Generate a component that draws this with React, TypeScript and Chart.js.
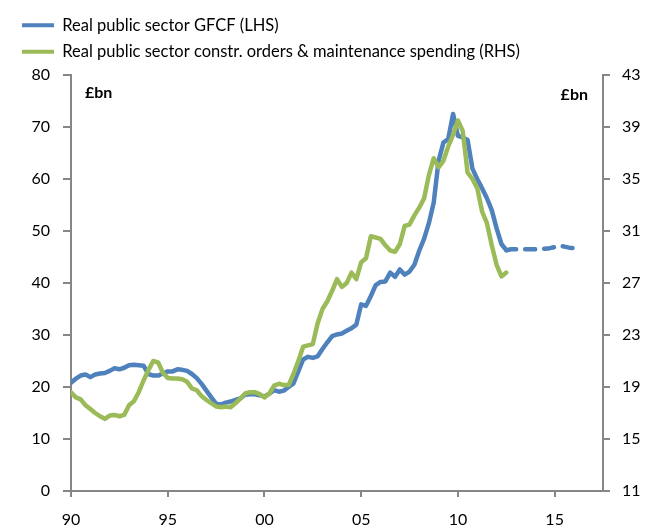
import React, { useEffect, useRef } from 'react';
import { Chart, registerables } from 'chart.js';

Chart.register(...registerables);

// Quarterly series starting 1990 Q1 (index 0)
const xTickIndexes = [0, 20, 40, 60, 80, 100];
const xTickLabels = ['90', '95', '00', '05', '10', '15'];

const seriesNames = [
  'Real public sector GFCF (LHS)',
  'Real public sector constr. orders & maintenance spending (RHS)',
];

// Real public sector GFCF, £bn (LHS), 1990Q1 .. 2012Q3
const gfcfActual = [
  20.8, 21.6, 22.2, 22.4, 21.9, 22.4, 22.6, 22.7, 23.1, 23.6,
  23.4, 23.7, 24.2, 24.3, 24.2, 24.1, 22.5, 22.2, 22.2, 22.6,
  23.0, 23.0, 23.4, 23.3, 23.1, 22.5, 21.7, 20.6, 19.3, 18.0,
  16.8, 16.6, 17.0, 17.2, 17.5, 17.8, 18.5, 18.6, 18.6, 18.4,
  18.2, 18.7, 19.4, 19.1, 19.3, 20.0, 20.7, 23.0, 25.3, 25.8,
  25.6, 25.9, 27.3, 28.6, 29.8, 30.1, 30.3, 30.8, 31.3, 32.0,
  35.9, 35.6, 37.5, 39.6, 40.2, 40.3, 42.0, 41.2, 42.6, 41.6,
  42.2, 43.5, 46.2, 48.5, 51.5, 55.5, 63.5, 67.0, 67.7, 72.5,
  68.3, 68.0, 67.5, 62.0, 60.0, 58.2, 56.3, 54.0, 50.5, 47.5,
  46.3,
];

// Projection, £bn (LHS), 2012Q4 .. 2016Q2
const gfcfProjection = [
  46.5, 46.5, 46.5, 46.5, 46.5, 46.5, 46.6, 46.6, 46.7, 46.9,
  47.2, 47.0, 46.8, 46.7, 46.7,
];

// Construction orders & maintenance spending, £bn (RHS), 1990Q1 .. 2012Q3
const constructionSpending = [
  18.6, 18.2, 18.05, 17.6, 17.3, 17.0, 16.75, 16.55, 16.8, 16.85,
  16.75, 16.85, 17.6, 17.9, 18.6, 19.5, 20.3, 21.0, 20.9, 20.1,
  19.7, 19.65, 19.65, 19.6, 19.4, 18.9, 18.75, 18.3, 18.0, 17.75,
  17.5, 17.45, 17.5, 17.45, 17.75, 18.1, 18.5, 18.6, 18.6, 18.45,
  18.2, 18.5, 19.1, 19.25, 19.15, 19.15, 20.0, 21.0, 22.1, 22.2,
  22.3, 23.9, 25.0, 25.6, 26.4, 27.3, 26.7, 27.0, 27.8, 27.3,
  28.6, 28.9, 30.6, 30.5, 30.4, 29.9, 29.5, 29.4, 30.0, 31.4,
  31.5, 32.2, 32.8, 33.5, 35.3, 36.6, 35.9, 36.4, 37.5, 38.4,
  39.5, 38.7, 35.5, 35.0, 34.3, 32.5, 31.6, 29.9, 28.4, 27.5,
  27.8,
];

const BLUE = '#4F81BD';
const GREEN = '#9BBB59';
const AXIS = '#868686';
const FONT = 'Lato';

const toPoints = (values: number[], start: number) =>
  values.map((v, i) => ({ x: start + i, y: v }));

const unitLabels = {
  id: 'unitLabels',
  afterDraw(chart: any) {
    const { ctx, chartArea } = chart;
    ctx.save();
    ctx.font = `bold 16px ${FONT}`;
    ctx.fillStyle = '#000';
    ctx.textBaseline = 'middle';
    ctx.textAlign = 'left';
    ctx.fillText('£bn', chartArea.left + 14, chartArea.top + 18);
    ctx.textAlign = 'right';
    ctx.fillText('£bn', chartArea.right - 15, chartArea.top + 20);
    ctx.restore();
  },
};

const legendSpacer = {
  id: 'legendSpacer',
  beforeInit(chart: any) {
    const legend = chart.legend;
    if (!legend) return;
    const origFit = legend.fit;
    legend.fit = function () {
      origFit.call(this);
      this.height += 5;
    };
  },
};

export default function App() {
  const ref = useRef<HTMLCanvasElement | null>(null);

  useEffect(() => {
    document.body.style.margin = '0';
    document.body.style.overflow = 'hidden';
    const canvas = ref.current;
    if (!canvas) return;

    const lastIdx = gfcfActual.length - 1;
    const projData = [
      { x: lastIdx, y: gfcfActual[lastIdx] },
      ...toPoints(gfcfProjection, gfcfActual.length),
    ];

    const chart = new Chart(canvas, {
      type: 'line',
      data: {
        datasets: [
          {
            label: seriesNames[0],
            data: toPoints(gfcfActual, 0),
            borderColor: BLUE,
            backgroundColor: BLUE,
            borderWidth: 4.5,
            pointRadius: 0,
            tension: 0,
            yAxisID: 'y',
            order: 1,
            borderJoinStyle: 'round',
            borderCapStyle: 'round',
          },
          {
            label: 'projection',
            data: projData,
            borderColor: BLUE,
            backgroundColor: BLUE,
            borderWidth: 4.5,
            borderDash: [10, 9],
            borderCapStyle: 'round',
            borderJoinStyle: 'round',
            pointRadius: 0,
            tension: 0,
            yAxisID: 'y',
            order: 1,
          },
          {
            label: seriesNames[1],
            data: toPoints(constructionSpending, 0),
            borderColor: GREEN,
            backgroundColor: GREEN,
            borderWidth: 4.5,
            pointRadius: 0,
            tension: 0,
            yAxisID: 'y1',
            order: 0,
            borderJoinStyle: 'round',
            borderCapStyle: 'round',
          },
        ],
      },
      options: {
        responsive: false,
        animation: false,
        events: [],
        layout: { padding: { top: 7, left: 12, right: 0, bottom: 0 } },
        plugins: {
          tooltip: { enabled: false },
          legend: {
            display: true,
            position: 'top',
            align: 'start',
            labels: {
              boxWidth: 32,
              boxHeight: 4,
              padding: 10,
              color: '#000',
              font: { family: FONT, size: 16.5 },
              generateLabels: (c: any) => {
                const items = (Chart.defaults.plugins.legend.labels as any).generateLabels(c);
                return items
                  .filter((it: any) => it.datasetIndex !== 1)
                  .sort((a: any, b: any) => a.datasetIndex - b.datasetIndex)
                  .map((it: any) => ({ ...it, lineWidth: 0 }));
              },
            },
          },
        },
        scales: {
          x: {
            type: 'linear',
            min: 0,
            max: 110,
            afterBuildTicks: (scale: any) => {
              scale.ticks = xTickIndexes.map((v) => ({ value: v }));
            },
            afterFit: (scale: any) => {
              scale.height = 38;
            },
            ticks: {
              callback: (v: any) => {
                const k = xTickIndexes.indexOf(Number(v));
                return k >= 0 ? xTickLabels[k] : '';
              },
              color: '#000',
              font: { family: FONT, size: 16 },
              padding: 13,
              maxRotation: 0,
              autoSkip: false,
            },
            grid: {
              drawOnChartArea: false,
              drawTicks: true,
              tickLength: 6,
              color: AXIS,
              lineWidth: 2,
            },
            border: { display: true, color: AXIS, width: 2 },
          },
          y: {
            type: 'linear',
            position: 'left',
            min: 0,
            max: 80,
            afterFit: (scale: any) => {
              scale.width = 59;
            },
            ticks: {
              stepSize: 10,
              color: '#000',
              font: { family: FONT, size: 16 },
              padding: 13,
            },
            grid: {
              drawOnChartArea: false,
              drawTicks: true,
              tickLength: 8,
              color: AXIS,
              lineWidth: 2,
            },
            border: { display: true, color: AXIS, width: 2 },
          },
          y1: {
            type: 'linear',
            position: 'right',
            min: 11,
            max: 43,
            afterFit: (scale: any) => {
              scale.width = 42;
            },
            ticks: {
              stepSize: 4,
              color: '#000',
              font: { family: FONT, size: 16 },
              padding: 12,
            },
            grid: {
              drawOnChartArea: false,
              drawTicks: true,
              tickLength: 7,
              color: AXIS,
              lineWidth: 2,
            },
            border: { display: true, color: AXIS, width: 2 },
          },
        },
      },
      plugins: [unitLabels, legendSpacer],
    } as any);

    return () => chart.destroy();
  }, []);

  return (
    <div style={{ width: 645, height: 529 }}>
      <canvas ref={ref} width={645} height={529} style={{ display: 'block' }} />
    </div>
  );
}
